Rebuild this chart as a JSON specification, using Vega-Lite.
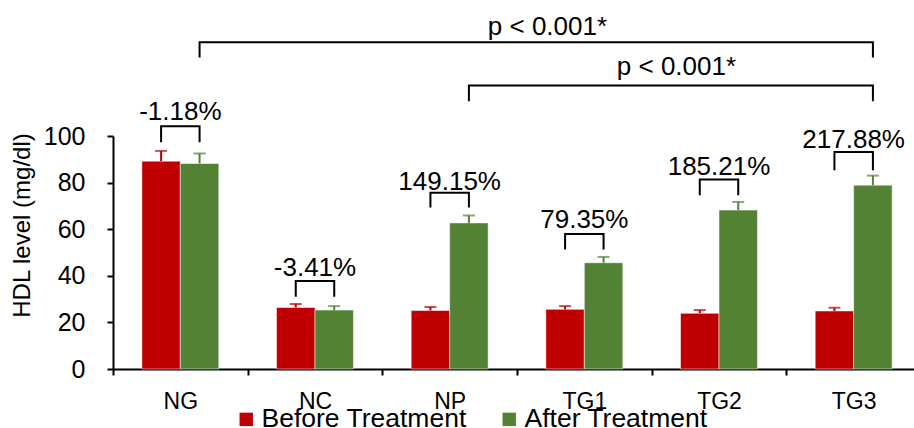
{
  "$schema": "https://vega.github.io/schema/vega-lite/v6.json",
  "width": 801,
  "height": 233,
  "autosize": "none",
  "padding": {"left": 113, "top": 136, "right": 0, "bottom": 59},
  "config": {
    "font": "Liberation Sans",
    "view": {"stroke": null},
    "axis": {"domainColor": "black", "tickColor": "black", "labelColor": "black", "titleColor": "black", "grid": false, "domainWidth": 2, "tickWidth": 2, "tickSize": 6},
    "axisY": {"labelPadding": 22}
  },
  "datasets": {
    "bars": [
      {"group": "NG", "series": "Before Treatment", "value": 89.2, "upper": 93.6},
      {"group": "NG", "series": "After Treatment", "value": 88.2, "upper": 92.5},
      {"group": "NC", "series": "Before Treatment", "value": 26.4, "upper": 27.9},
      {"group": "NC", "series": "After Treatment", "value": 25.3, "upper": 27.0},
      {"group": "NP", "series": "Before Treatment", "value": 25.1, "upper": 26.6},
      {"group": "NP", "series": "After Treatment", "value": 62.7, "upper": 65.9},
      {"group": "TG1", "series": "Before Treatment", "value": 25.6, "upper": 27.0},
      {"group": "TG1", "series": "After Treatment", "value": 45.6, "upper": 48.1},
      {"group": "TG2", "series": "Before Treatment", "value": 23.9, "upper": 25.3},
      {"group": "TG2", "series": "After Treatment", "value": 68.2, "upper": 71.7},
      {"group": "TG3", "series": "Before Treatment", "value": 24.9, "upper": 26.3},
      {"group": "TG3", "series": "After Treatment", "value": 78.9, "upper": 83.0}
    ],
    "brackets": [
      {"group": "NG", "series": "Before Treatment", "y": 97.3, "o": 1},
      {"group": "NG", "series": "Before Treatment", "y": 104.2, "o": 2},
      {"group": "NG", "series": "After Treatment", "y": 104.2, "o": 3},
      {"group": "NG", "series": "After Treatment", "y": 97.3, "o": 4},
      {"group": "NC", "series": "Before Treatment", "y": 31.0, "o": 1},
      {"group": "NC", "series": "Before Treatment", "y": 37.8, "o": 2},
      {"group": "NC", "series": "After Treatment", "y": 37.8, "o": 3},
      {"group": "NC", "series": "After Treatment", "y": 31.0, "o": 4},
      {"group": "NP", "series": "Before Treatment", "y": 69.3, "o": 1},
      {"group": "NP", "series": "Before Treatment", "y": 75.6, "o": 2},
      {"group": "NP", "series": "After Treatment", "y": 75.6, "o": 3},
      {"group": "NP", "series": "After Treatment", "y": 69.3, "o": 4},
      {"group": "TG1", "series": "Before Treatment", "y": 51.3, "o": 1},
      {"group": "TG1", "series": "Before Treatment", "y": 57.9, "o": 2},
      {"group": "TG1", "series": "After Treatment", "y": 57.9, "o": 3},
      {"group": "TG1", "series": "After Treatment", "y": 51.3, "o": 4},
      {"group": "TG2", "series": "Before Treatment", "y": 74.6, "o": 1},
      {"group": "TG2", "series": "Before Treatment", "y": 81.3, "o": 2},
      {"group": "TG2", "series": "After Treatment", "y": 81.3, "o": 3},
      {"group": "TG2", "series": "After Treatment", "y": 74.6, "o": 4},
      {"group": "TG3", "series": "Before Treatment", "y": 85.3, "o": 1},
      {"group": "TG3", "series": "Before Treatment", "y": 93.1, "o": 2},
      {"group": "TG3", "series": "After Treatment", "y": 93.1, "o": 3},
      {"group": "TG3", "series": "After Treatment", "y": 85.3, "o": 4}
    ],
    "pct": [
      {"group": "NG", "y": 106.7, "label": "-1.18%"},
      {"group": "NC", "y": 39.9, "label": "-3.41%"},
      {"group": "NP", "y": 77.0, "label": "149.15%"},
      {"group": "TG1", "y": 60.6, "label": "79.35%"},
      {"group": "TG2", "y": 83.2, "label": "185.21%"},
      {"group": "TG3", "y": 95.0, "label": "217.88%"}
    ],
    "sig": [
      {"id": "a", "group": "NG", "series": "After Treatment", "y": 133.7, "o": 1},
      {"id": "a", "group": "NG", "series": "After Treatment", "y": 140.2, "o": 2},
      {"id": "a", "group": "TG3", "series": "After Treatment", "y": 140.2, "o": 3},
      {"id": "a", "group": "TG3", "series": "After Treatment", "y": 133.7, "o": 4},
      {"id": "b", "group": "NP", "series": "After Treatment", "y": 114.9, "o": 1},
      {"id": "b", "group": "NP", "series": "After Treatment", "y": 121.7, "o": 2},
      {"id": "b", "group": "TG3", "series": "After Treatment", "y": 121.7, "o": 3},
      {"id": "b", "group": "TG3", "series": "After Treatment", "y": 114.9, "o": 4}
    ],
    "sigtext1": [{"group": "TG1", "y": 143.2, "label": "p < 0.001*"}],
    "sigtext2": [{"group": "TG2", "y": 126.0, "label": "p < 0.001*"}]
  },
  "layer": [
    {
      "data": {"name": "bars"},
      "mark": {"type": "bar", "stroke": "white", "strokeOpacity": 0.5, "strokeWidth": 1},
      "encoding": {
        "x": {
          "field": "group", "type": "nominal",
          "scale": {"domain": ["NG", "NC", "NP", "TG1", "TG2", "TG3"], "range": [0, 808], "paddingInner": 0, "paddingOuter": 0},
          "axis": {"title": null, "tickBand": "extent", "labelFontSize": 23, "labelPadding": 15, "labelAngle": 0}
        },
        "xOffset": {
          "field": "series", "type": "nominal",
          "scale": {"domain": ["Before Treatment", "After Treatment"], "paddingOuter": 0.75, "paddingInner": 0}
        },
        "y": {
          "field": "value", "type": "quantitative",
          "scale": {"domain": [0, 100], "nice": false},
          "axis": {"values": [0, 20, 40, 60, 80, 100], "labelFontSize": 25, "title": "HDL level (mg/dl)", "titleFontSize": 24, "titleFontWeight": "normal", "titleX": -84, "titleY": 89, "titleBaseline": "alphabetic"}
        },
        "color": {
          "field": "series", "type": "nominal",
          "scale": {"domain": ["Before Treatment", "After Treatment"], "range": ["#C00000", "#548235"]},
          "legend": {"title": null, "orient": "none", "legendX": 120, "legendY": 270, "direction": "horizontal", "symbolType": "square", "symbolSize": 180, "symbolStrokeWidth": 0, "labelFontSize": 26.5, "labelOffset": 2, "labelLimit": 0, "columnPadding": 29, "padding": 0, "labelColor": "black"}
        }
      }
    },
    {
      "data": {"name": "bars"},
      "mark": {"type": "rule", "strokeWidth": 2},
      "encoding": {
        "x": {"field": "group", "type": "nominal"},
        "xOffset": {"field": "series", "type": "nominal"},
        "y": {"field": "value", "type": "quantitative"},
        "y2": {"field": "upper"},
        "color": {"field": "series", "type": "nominal", "legend": null}
      }
    },
    {
      "data": {"name": "bars"},
      "mark": {"type": "tick", "thickness": 2, "size": 12, "orient": "horizontal"},
      "encoding": {
        "x": {"field": "group", "type": "nominal"},
        "xOffset": {"field": "series", "type": "nominal"},
        "y": {"field": "upper", "type": "quantitative"},
        "color": {"field": "series", "type": "nominal", "legend": null}
      }
    },
    {
      "data": {"name": "brackets"},
      "mark": {"type": "line", "color": "black", "strokeWidth": 2},
      "encoding": {
        "x": {"field": "group", "type": "nominal"},
        "xOffset": {"field": "series", "type": "nominal"},
        "y": {"field": "y", "type": "quantitative"},
        "detail": {"field": "group"},
        "order": {"field": "o"}
      }
    },
    {
      "data": {"name": "sig"},
      "mark": {"type": "line", "color": "black", "strokeWidth": 2},
      "encoding": {
        "x": {"field": "group", "type": "nominal"},
        "xOffset": {"field": "series", "type": "nominal"},
        "y": {"field": "y", "type": "quantitative"},
        "detail": {"field": "id"},
        "order": {"field": "o"}
      }
    },
    {
      "data": {"name": "pct"},
      "mark": {"type": "text", "fontSize": 26, "baseline": "alphabetic", "align": "center", "color": "black"},
      "encoding": {
        "x": {"field": "group", "type": "nominal"},
        "y": {"field": "y", "type": "quantitative"},
        "text": {"field": "label"}
      }
    },
    {
      "data": {"name": "sigtext1"},
      "mark": {"type": "text", "fontSize": 26, "baseline": "alphabetic", "align": "center", "color": "black"},
      "encoding": {
        "x": {"field": "group", "type": "nominal", "bandPosition": 0.226},
        "y": {"field": "y", "type": "quantitative"},
        "text": {"field": "label"}
      }
    },
    {
      "data": {"name": "sigtext2"},
      "mark": {"type": "text", "fontSize": 26, "baseline": "alphabetic", "align": "center", "color": "black"},
      "encoding": {
        "x": {"field": "group", "type": "nominal", "bandPosition": 0.184},
        "y": {"field": "y", "type": "quantitative"},
        "text": {"field": "label"}
      }
    }
  ]
}
